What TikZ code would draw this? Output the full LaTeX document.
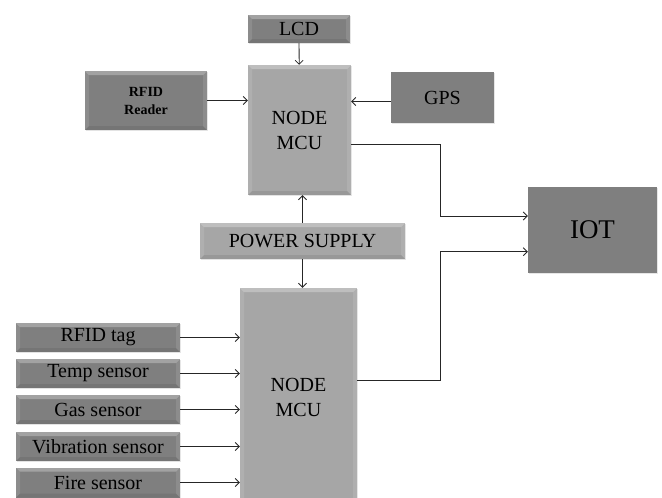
\documentclass[tikz,border=0pt]{standalone}
\usepackage{fontspec}
\setmainfont{Liberation Serif}
\usetikzlibrary{arrows.meta,shadows}

\definecolor{darkbox}{RGB}{127,127,127}
\definecolor{lightbox}{RGB}{166,166,166}

\tikzset{
 bevel/.style={path picture={
   \path (path picture bounding box.south west) coordinate (bsw)
         (path picture bounding box.north east) coordinate (bne)
         (bsw|-bne) coordinate (bnw) (bne|-bsw) coordinate (bse);
   \fill[white,opacity=.28] (bnw) -- (bne) -- ([shift={(-4pt,-4pt)}]bne) -- ([shift={(4pt,-4pt)}]bnw) -- cycle;
   \fill[white,opacity=.1] (bnw) -- (bsw) -- ([shift={(4pt,4pt)}]bsw) -- ([shift={(4pt,-4pt)}]bnw) -- cycle;
   \fill[white,opacity=.1] (bne) -- (bse) -- ([shift={(-4pt,4pt)}]bse) -- ([shift={(-4pt,-4pt)}]bne) -- cycle;
   \fill[black,opacity=.08] (bsw) -- (bse) -- ([shift={(-4pt,4pt)}]bse) -- ([shift={(4pt,4pt)}]bsw) -- cycle;
 }},
 box/.style={inner sep=0pt, align=center, text=black,
   font=\fontsize{20}{25}\selectfont,
   drop shadow={shadow xshift=1.2pt,shadow yshift=-1.2pt,opacity=.2}},
 dbox/.style={box, fill=darkbox, bevel},
 lbox/.style={box, fill=lightbox, bevel},
 fbox/.style={box, fill=darkbox},
 conn/.style={draw=black!85, line width=0.8pt, -{Straight Barb[length=4pt,width=8pt]}},
}

\begin{document}
\begin{tikzpicture}[x=1pt,y=-1pt]
\useasboundingbox (0,0) rectangle (662,498);

\node[dbox, minimum width=102pt, minimum height=28pt] (lcd) at (299,29) {LCD};
\node[lbox, minimum width=103pt, minimum height=130pt] (mcua) at (299.5,130) {NODE\\MCU};
\node[dbox, minimum width=122pt, minimum height=59pt, font=\bfseries\fontsize{14}{18}\selectfont] (rfidr) at (146,100.5) {RFID\\Reader};
\node[fbox, minimum width=103pt, minimum height=51pt] (gps) at (442.5,97.5) {GPS};
\node[fbox, minimum width=129pt, minimum height=86pt, font=\fontsize{27}{30}\selectfont] (iot) at (592.5,229.7) {IOT};
\node[lbox, minimum width=205pt, minimum height=36pt] (pwr) at (302.5,241) {POWER SUPPLY};
\node[lbox, minimum width=117pt, minimum height=218pt] (mcub) at (298.5,397) {NODE\\MCU};

\node[dbox, minimum width=164pt, minimum height=29pt] (s1) at (98,337.5) {RFID tag};
\node[dbox, minimum width=164pt, minimum height=29pt] (s2) at (98,373.5) {Temp sensor};
\node[dbox, minimum width=164pt, minimum height=29pt] (s3) at (98,409.5) {Gas sensor};
\node[dbox, minimum width=164pt, minimum height=29pt] (s4) at (98,446.5) {Vibration sensor};
\node[dbox, minimum width=164pt, minimum height=30pt] (s5) at (98,482.5) {Fire sensor};

\coordinate (j1) at (440,216);
\coordinate (j2) at (440,251.7);

\draw[conn] (lcd) -- (mcua);
\draw[conn] (rfidr.east) -- (rfidr.east -| mcua.west);
\draw[conn] ([yshift=-4pt]gps.west) -- ([yshift=-4pt]gps.west -| mcua.east);
\draw[conn] ([yshift=-14pt]mcua.east) -| (j1) -- (j1 -| iot.west);
\draw[conn] ([yshift=17pt]mcub.east) -| (j2) -- (j2 -| iot.west);
\draw[conn] (pwr.north) -- (pwr.north |- mcua.south);
\draw[conn] (pwr.south) -- (pwr.south |- mcub.north);
\foreach \s in {s1,s2,s3,s4,s5}
  \draw[conn] (\s.east) -- (\s.east -| mcub.west);
\end{tikzpicture}
\end{document}
